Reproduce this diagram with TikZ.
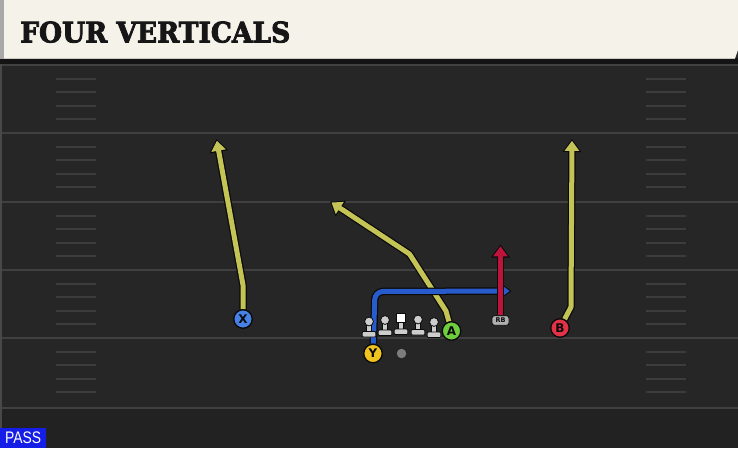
\documentclass[tikz,border=0pt]{standalone}
\usepackage{fontspec}
\setmainfont{DejaVu Sans}
\newfontfamily\titlefont{DejaVu Serif}[BoldFeatures={FakeBold=3}]
\newfontfamily\passfont{Liberation Sans}
\usetikzlibrary{arrows.meta}
\pgfdeclarelayer{bg}
\pgfdeclarelayer{rt}
\pgfsetlayers{bg,rt,main}
\definecolor{field}{RGB}{38,38,38}
\definecolor{fieldlow}{RGB}{34,34,34}
\definecolor{yardc}{RGB}{64,64,64}
\definecolor{hashc}{RGB}{60,60,60}
\definecolor{cream}{RGB}{245,242,234}
\definecolor{shadowc}{RGB}{20,20,20}
\definecolor{edgec}{RGB}{72,72,72}
\definecolor{hline}{RGB}{205,202,195}
\definecolor{hleft}{RGB}{168,168,168}
\definecolor{ballc}{RGB}{125,125,125}
\definecolor{rbc}{RGB}{175,175,175}
\definecolor{routey}{RGB}{196,196,86}
\definecolor{routeb}{RGB}{40,92,205}
\definecolor{router}{RGB}{190,20,60}
\definecolor{plx}{RGB}{70,130,230}
\definecolor{ply}{RGB}{240,195,30}
\definecolor{pla}{RGB}{110,205,60}
\definecolor{plb}{RGB}{225,50,70}
\definecolor{lmc}{RGB}{205,205,205}
\definecolor{outl}{RGB}{10,10,10}
\definecolor{titlec}{RGB}{22,22,22}
\definecolor{passblue}{RGB}{20,30,230}
\tikzset{
  yard/.style={draw=yardc, line width=2pt},
  hash/.style={draw=hashc, line width=2pt},
  player/.style={circle, minimum size=18.5pt, inner sep=0pt, draw=outl, line width=1.3pt,
     font=\bfseries\fontsize{12}{12}\selectfont, text=outl},
  rto/.style={draw=outl, line width=7.5pt, line join=round, -{Triangle[length=13pt,width=18pt]}},
  rtc/.style={line width=5pt, line join=round, shorten >=1.8pt, -{Triangle[length=10pt,width=14pt]}},
  lm/.style={fill=lmc, draw=outl, line width=0.8pt},
  blocker/.pic={
    \path[lm] (-2.6,0) rectangle (2.6,11);
    \path[lm, rounded corners=1pt] (-6.8,10) rectangle (6.8,15.5);
    \path[lm] (0,0) circle (4.4);
  },
  snapper/.pic={
    \path[lm] (-2.6,0) rectangle (2.6,12);
    \path[lm, rounded corners=1pt] (-6.8,11) rectangle (6.8,16.5);
    \path[fill=white, draw=outl, line width=0.8pt] (-4.6,-4.6) rectangle (4.6,4.6);
  }
}
\begin{document}
\begin{tikzpicture}[x=1pt,y=-1pt]
\useasboundingbox (0,0) rectangle (738,448);
\begin{pgfonlayer}{bg}
  \fill[field] (0,0) rectangle (738,448);
  \fill[fieldlow] (0,408) rectangle (738,448);
  \foreach \yy in {65,133,202,270,338,408} \draw[yard] (0,\yy) -- (738,\yy);
  \foreach \yy in {65,133,202,270,338} \foreach \k in {1,2,3,4} {
    \draw[hash] (56,{\yy+13.6*\k}) -- (96,{\yy+13.6*\k});
    \draw[hash] (646,{\yy+13.6*\k}) -- (686,{\yy+13.6*\k});
  }
  \fill[edgec] (0,59) rectangle (2,448);
  \fill[shadowc] (0,58) rectangle (738,64);
  \fill[cream] (0,0) -- (738,0) -- (738,50) -- (735,58.5) -- (0,58.5) -- cycle;
  \draw[hline, line width=1pt] (0,58) -- (735.2,58);
  \fill[hleft] (0,0) rectangle (4,58.5);
\end{pgfonlayer}

\node[anchor=south west, inner sep=0pt, text=titlec] (title) at (20,43)
  {\resizebox{270pt}{21pt}{\titlefont\bfseries FOUR VERTICALS}};

% players
\node[player, fill=plx] (X) at (243,319) {X};
\node[player, fill=ply] (Y) at (373,353.5) {Y};
\node[player, fill=pla] (A) at (451.5,331) {A};
\node[player, fill=plb] (B) at (560,328) {B};
\node[circle, fill=ballc, minimum size=9.5pt, inner sep=0pt] (ball) at (401.5,353.5) {};
\node[rectangle, rounded corners=2.5pt, fill=rbc, draw=outl, line width=0.7pt,
  minimum width=17pt, minimum height=9.5pt, inner sep=0pt, font=\bfseries\fontsize{6.5}{6.5}\selectfont, text=outl] (RB) at (500.5,320.5) {RB};

\pic at (369,321.5) {blocker};
\pic at (385,320) {blocker};
\pic at (401,318) {snapper};
\pic at (418,319.5) {blocker};
\pic at (434,322) {blocker};

% route points
\coordinate (x1) at (243,285);
\coordinate (xe) at (216.5,139);
\coordinate (a1) at (446,311);
\coordinate (a2) at (409.5,254);
\coordinate (ae) at (330,201.5);
\coordinate (b1) at (571,307);
\coordinate (be) at (572,139);
\coordinate (y1) at (375,291.5);
\coordinate (ye) at (511.5,291);
\coordinate (re) at (500.5,244.5);

\begin{pgfonlayer}{rt}
  \draw[rto] (X) -- (x1) -- (xe);
  \draw[rtc, draw=routey] (X) -- (x1) -- (xe);
  \draw[rto] (A) -- (a1) -- (a2) -- (ae);
  \draw[rtc, draw=routey] (A) -- (a1) -- (a2) -- (ae);
  \draw[rto] (B) -- (b1) -- (be);
  \draw[rtc, draw=routey] (B) -- (b1) -- (be);
  \draw[rto, rounded corners=8pt] (Y) -- (y1) -- (ye);
  \draw[rtc, draw=routeb, rounded corners=8pt] (Y) -- (y1) -- (ye);
  \draw[rto] (RB) -- (re);
  \draw[rtc, draw=router] (RB) -- (re);
\end{pgfonlayer}

\node[fill=passblue, anchor=south west, minimum width=46pt, minimum height=20pt, inner sep=0pt,
  text=white] (pass) at (0,448) {\resizebox{36pt}{11.7pt}{\passfont PASS}};
\end{tikzpicture}
\end{document}
